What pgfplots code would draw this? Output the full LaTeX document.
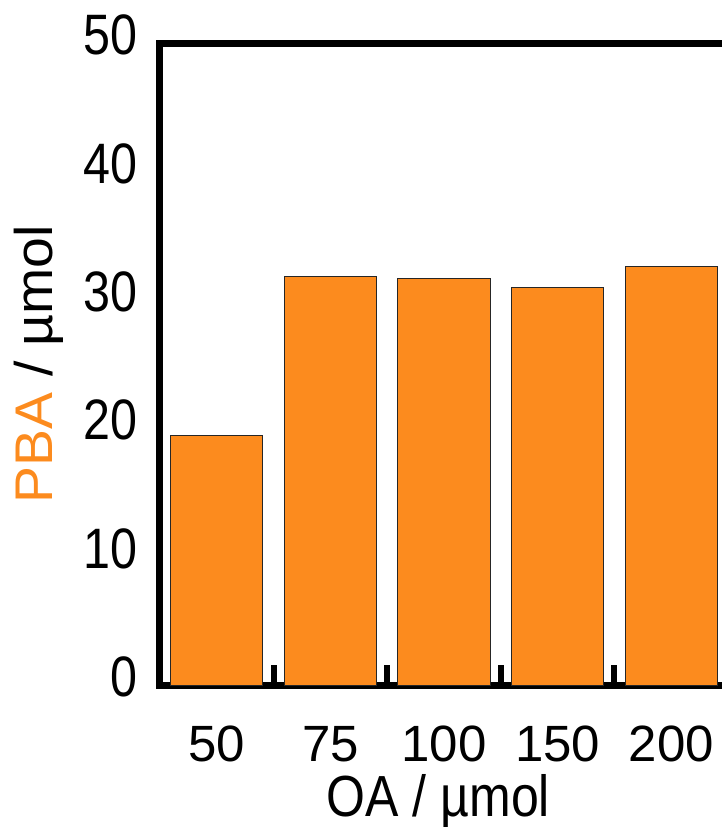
\documentclass[border=0pt]{standalone}
\usepackage{pgfplots}
\pgfplotsset{compat=1.18}
\usepackage{fontspec}
\usepackage{graphicx}
\setmainfont{Liberation Sans}
\definecolor{barorange}{RGB}{252,139,30}
\begin{document}
\begin{tikzpicture}
\begin{axis}[
  scale only axis,
  width=284pt, height=321pt,
  xmin=-0.5, xmax=4.5,
  ymin=0, ymax=50,
  axis line style={line width=3.5pt},
  /pgf/number format/assume math mode=true,
  xtick={0,1,2,3,4},
  xticklabels={50,75,100,150,200},
  xtick style={draw=none},
  ytick={0,10,20,30,40,50},
  ytick style={draw=none},
  tick align=inside,
  xtick pos=bottom,
  extra x ticks={0.5,1.5,2.5,3.5},
  extra x tick labels={},
  extra x tick style={tick align=inside, xtick style={draw=black, line width=3pt}, major tick length=10pt},
  xticklabel style={font=\fontsize{25.5}{30}\selectfont, anchor=north, inner sep=0pt, yshift=-16pt},
  yticklabel style={font=\fontsize{28.5}{33}\selectfont, anchor=east, inner sep=0pt, xshift=-11pt, yshift=4pt},
  yticklabel={\scalebox{0.85}[1]{\pgfmathprintnumber{\tick}}},
  xlabel={\scalebox{1}[1.16]{OA / µmol}},
  xlabel style={font=\fontsize{25}{30}\selectfont, at={(rel axis cs:0.49,-0.2048)}, anchor=base},
  ylabel={\scalebox{1.045}[1]{\textcolor{barorange}{PBA} / µmol}},
  ylabel style={font=\fontsize{26.5}{31}\selectfont, at={(rel axis cs:-0.190,0.5)}, anchor=base},
  ybar, bar width=0.81, bar shift=0pt,
]
\addplot[fill=barorange, draw=black!85, line width=0.5pt] coordinates {
  (0,19.43) (1,31.8) (2,31.65) (3,30.96) (4,32.6)
};
\end{axis}
\pgfresetboundingbox
\useasboundingbox (-80pt,-71pt) rectangle (281pt,342.5pt);
\end{tikzpicture}
\end{document}
